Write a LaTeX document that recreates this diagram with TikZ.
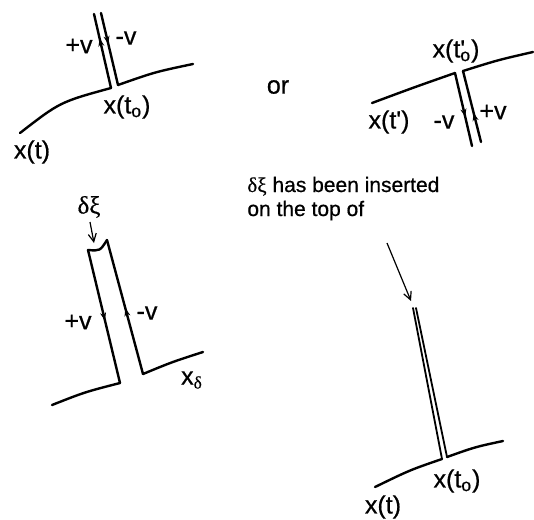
\documentclass[tikz,border=0pt]{standalone}
\usepackage{fontspec}
\setmainfont{Liberation Sans}[FakeBold=0.6]
\newfontfamily\greekfont{Liberation Serif}[FakeBold=0.4]
\usetikzlibrary{arrows.meta, decorations.markings}

\begin{document}
\begin{tikzpicture}[
  x=0.5pt, y=-0.5pt,
  lbl/.style={font=\fontsize{12.5}{14}\selectfont, inner sep=0pt},
  note/.style={font=\fontsize{10.5}{12}\selectfont, align=left, inner sep=0pt},
  wire/.style={line width=1.2pt, line cap=round, line join=round},
  needle/.style={line width=0.9pt, line cap=round},
  pointer/.style={line width=0.6pt, -{Straight Barb[length=4pt, width=4pt]}},
  flowmid/.style={postaction={decorate}, decoration={markings,
    mark=at position #1 with {\arrow[line width=0.6pt]{Stealth[length=4pt, width=3pt]}}}}
]
\useasboundingbox (0,0) rectangle (534,519);

% top left: path x(t) with the loop at x(t_o)
\coordinate (a1) at (20,133);
\coordinate (a2) at (111,88);
\coordinate (a3) at (118,85);
\coordinate (a4) at (193,64);
\coordinate (a5) at (94,14);
\coordinate (a6) at (101,13);
\draw[wire] (a1) .. controls (60,102) .. (a2);
\draw[wire] (a3) .. controls (155,72) .. (a4);
\draw[wire, flowmid=0.67] (a2) -- (a5);
\draw[wire, flowmid=0.43] (a6) -- (a3);
\node[lbl] (plusA) at (79,46) {+v};
\node[lbl] (minusA) at (126,38) {-v};
\node[lbl] (xtoA) at (127,107) {x(t\textsubscript{o})};
\node[lbl] (xtA) at (32,152) {x(t)};

\node[lbl] (orword) at (278,87) {or};

% top right: the same loop hanging down
\coordinate (b1) at (372,103);
\coordinate (b2) at (455,73);
\coordinate (b3) at (463,71);
\coordinate (b4) at (533,52);
\coordinate (b5) at (472,146);
\coordinate (b6) at (481,142);
\draw[wire] (b1) .. controls (415,87) .. (b2);
\draw[wire] (b3) .. controls (498,60) .. (b4);
\draw[wire, flowmid=0.6] (b2) -- (b5);
\draw[wire, flowmid=0.41] (b6) -- (b3);
\node[lbl] (xtoB) at (456,51) {x(t\rlap{\textquotesingle}\textsubscript{o})};
\node[lbl] (xtB) at (389,122) {x(t\textquotesingle)};
\node[lbl] (minusB) at (444,122) {-v};
\node[lbl] (plusB) at (493,112) {+v};

% bottom left: loop with the insertion on top
\coordinate (c1) at (52,405);
\coordinate (c2) at (120,383);
\coordinate (c3) at (88,250);
\coordinate (c4) at (107,240);
\coordinate (c5) at (143,374);
\coordinate (c6) at (203,352);
\draw[wire] (c1) .. controls (85,392) .. (c2);
\draw[wire, flowmid=0.53] (c3) -- (c2);
\draw[wire] (c3) .. controls (100,251) .. (c4);
\draw[wire, flowmid=0.49] (c5) -- (c4);
\draw[wire] (c5) .. controls (172,362) .. (c6);
\node[lbl, font=\fontsize{12.5}{14}\greekfont] (dxi) at (89,207) {δξ};
\coordinate (dtail) at (90,222);
\coordinate (dtip) at (94,243);
\draw[pointer] (dtail) -- (dtip);
\node[lbl] (plusC) at (78,322) {+v};
\node[lbl] (minusC) at (147,313) {-v};
\node[lbl] (xdelta) at (192,380) {x\textsubscript{\greekfont δ}};

% bottom right: thin needle
\coordinate (d1) at (375,487);
\coordinate (d2) at (442,459);
\coordinate (d3) at (447,457);
\coordinate (d4) at (503,441);
\coordinate (d5) at (413,308);
\coordinate (d6) at (416,308);
\draw[wire] (d1) .. controls (410,470) .. (d2);
\draw[wire] (d3) .. controls (475,447) .. (d4);
\draw[needle] (d5) -- (d2);
\draw[needle] (d6) -- (d3);
\node[note, anchor=base west] (insnote) at (247,216) {{\greekfont δξ} has been inserted\\on the top of};
\coordinate (ptail) at (387,243);
\coordinate (ptip) at (411,301);
\draw[pointer] (ptail) -- (ptip);
\node[lbl] (xtoD) at (457,481) {x(t\textsubscript{o})};
\node[lbl] (xtD) at (383,507) {x(t)};
\end{tikzpicture}
\end{document}
